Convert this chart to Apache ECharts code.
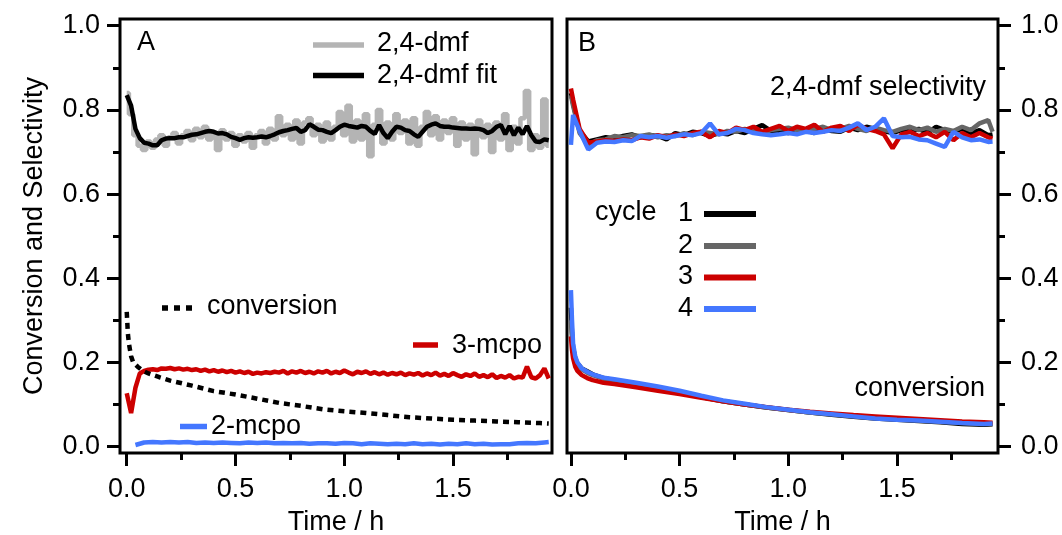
<!DOCTYPE html>
<html>
<head>
<meta charset="utf-8">
<script src="https://cdn.jsdelivr.net/npm/echarts@6/dist/echarts.min.js"></script>
<style>html,body{margin:0;padding:0;background:#fff;}#chart{width:1062px;height:535px;}</style>
</head>
<body>
<div id="chart"></div>
<script>
// ---------- DATA ----------
const timeFine = [
  0,0.02,0.04,0.06,0.08,0.1,0.12,0.14,0.16,0.18,
  0.2,0.22,0.24,0.26,0.28,0.3,0.32,0.34,0.36,0.38,
  0.4,0.42,0.44,0.46,0.48,0.5,0.52,0.54,0.56,0.58,
  0.6,0.62,0.64,0.66,0.68,0.7,0.72,0.74,0.76,0.78,
  0.8,0.82,0.84,0.86,0.88,0.9,0.92,0.94,0.96,0.98,
  1,1.02,1.04,1.06,1.08,1.1,1.12,1.14,1.16,1.18,
  1.2,1.22,1.24,1.26,1.28,1.3,1.32,1.34,1.36,1.38,
  1.4,1.42,1.44,1.46,1.48,1.5,1.52,1.54,1.56,1.58,
  1.6,1.62,1.64,1.66,1.68,1.7,1.72,1.74,1.76,1.78,
  1.8,1.82,1.84,1.86,1.88,1.9,1.92,1.94
];
const timeCoarse = [
  0,0.01,0.04,0.08,0.12,0.16,0.2,0.24,0.28,0.32,
  0.36,0.4,0.44,0.48,0.52,0.56,0.6,0.64,0.68,0.72,
  0.76,0.8,0.84,0.88,0.92,0.96,1,1.04,1.08,1.12,
  1.16,1.2,1.24,1.28,1.32,1.36,1.4,1.44,1.48,1.52,
  1.56,1.6,1.64,1.68,1.72,1.76,1.8,1.84,1.88,1.92,
  1.94
];
const timeConv = [0,0.005,0.01,0.02,0.03,0.05,0.075,0.1,0.15,0.2,0.3,0.4,0.5,0.6,0.7,0.8,0.9,1,1.1,1.2,1.3,1.4,1.5,1.6,1.7,1.8,1.9,1.94];

// Panel A: 2,4-dmf selectivity (raw)
const dmfA = [
  0.84,0.79,0.74,0.715,0.705,0.725,0.71,0.73,0.74,0.715,
  0.735,0.745,0.72,0.74,0.75,0.728,0.755,0.735,0.76,0.73,
  0.745,0.705,0.752,0.73,0.745,0.715,0.74,0.725,0.745,0.71,
  0.74,0.75,0.72,0.755,0.73,0.785,0.74,0.765,0.73,0.775,
  0.72,0.77,0.78,0.74,0.765,0.725,0.77,0.73,0.76,0.795,
  0.74,0.81,0.725,0.775,0.73,0.79,0.69,0.765,0.8,0.72,
  0.77,0.73,0.79,0.745,0.775,0.72,0.78,0.715,0.76,0.795,
  0.74,0.785,0.73,0.775,0.745,0.78,0.715,0.77,0.73,0.765,
  0.695,0.775,0.735,0.765,0.7,0.77,0.73,0.79,0.705,0.76,
  0.72,0.78,0.845,0.705,0.74,0.71,0.825,0.715
];
// Panel A: 2,4-dmf fit
const dmfFitA = [
  0.835,0.81,0.755,0.733,0.722,0.72,0.716,0.716,0.728,0.732,
  0.733,0.733,0.735,0.735,0.738,0.741,0.742,0.745,0.748,0.75,
  0.748,0.744,0.745,0.742,0.736,0.733,0.729,0.733,0.735,0.734,
  0.735,0.737,0.735,0.738,0.742,0.747,0.75,0.752,0.755,0.757,
  0.748,0.752,0.766,0.76,0.753,0.752,0.748,0.745,0.752,0.76,
  0.765,0.762,0.76,0.758,0.762,0.76,0.75,0.743,0.764,0.745,
  0.733,0.748,0.76,0.758,0.752,0.75,0.742,0.736,0.748,0.76,
  0.765,0.768,0.762,0.76,0.76,0.758,0.757,0.756,0.756,0.755,
  0.756,0.755,0.752,0.745,0.75,0.76,0.764,0.742,0.762,0.74,
  0.758,0.742,0.762,0.74,0.725,0.724,0.73,0.728
];
// Panel A: 3-mcpo selectivity
const mcpo3A = [
  0.127,0.08,0.14,0.174,0.18,0.183,0.184,0.182,0.186,0.185,
  0.187,0.184,0.186,0.183,0.185,0.182,0.184,0.18,0.183,0.179,
  0.182,0.178,0.181,0.177,0.18,0.176,0.179,0.175,0.178,0.173,
  0.176,0.174,0.177,0.175,0.178,0.176,0.18,0.174,0.179,0.176,
  0.18,0.175,0.178,0.174,0.179,0.176,0.18,0.174,0.178,0.175,
  0.181,0.176,0.172,0.178,0.175,0.179,0.173,0.177,0.172,0.176,
  0.171,0.175,0.172,0.176,0.17,0.174,0.171,0.175,0.169,0.174,
  0.17,0.176,0.169,0.173,0.168,0.175,0.17,0.166,0.172,0.168,
  0.174,0.166,0.17,0.165,0.172,0.163,0.168,0.164,0.17,0.162,
  0.166,0.164,0.19,0.165,0.162,0.17,0.186,0.162
];
// Panel A: 2-mcpo selectivity
const mcpo2A = [
  null,null,0.004,0.01,0.011,0.01,0.011,0.01,0.011,0.009,
  0.01,0.009,0.01,0.009,0.008,0.01,0.009,0.01,0.008,0.009,
  0.008,0.009,0.007,0.008,0.008,0.007,0.009,0.008,0.006,0.008,
  0.007,0.006,0.007,0.006,0.008,0.006,0.007,0.005,0.007,0.006,
  0.008,0.006,0.007,0.005,0.006,0.006,0.008,0.009,0.008,0.01,
  0.011
];
// Panel A: conversion
const convA = [0.32,0.27,0.245,0.215,0.2,0.19,0.18,0.174,0.165,0.157,0.145,0.132,0.124,0.114,0.104,0.097,0.089,0.084,0.08,0.075,0.07,0.067,0.064,0.062,0.06,0.058,0.056,0.055];

// Panel B: 2,4-dmf selectivity, cycles 1-4 (on timeCoarse)
const selB1 = [
  0.84,0.815,0.75,0.725,0.73,0.735,0.732,0.738,0.742,0.735,
  0.74,0.738,0.73,0.745,0.74,0.748,0.745,0.738,0.745,0.742,
  0.75,0.745,0.755,0.764,0.75,0.748,0.745,0.75,0.752,0.745,
  0.755,0.75,0.748,0.758,0.752,0.76,0.755,0.75,0.745,0.752,
  0.748,0.755,0.745,0.76,0.752,0.748,0.755,0.745,0.752,0.74,
  0.742
];
const selB2 = [
  0.835,0.81,0.745,0.718,0.728,0.73,0.738,0.735,0.74,0.738,
  0.742,0.735,0.74,0.738,0.745,0.74,0.748,0.745,0.742,0.75,
  0.748,0.755,0.75,0.745,0.752,0.755,0.758,0.752,0.748,0.755,
  0.76,0.752,0.755,0.762,0.755,0.75,0.758,0.752,0.748,0.755,
  0.76,0.752,0.758,0.748,0.755,0.75,0.76,0.752,0.768,0.776,
  0.748
];
const selB3 = [
  0.851,0.825,0.755,0.722,0.725,0.728,0.726,0.73,0.728,0.735,
  0.732,0.74,0.735,0.742,0.738,0.745,0.748,0.735,0.75,0.745,
  0.758,0.752,0.76,0.748,0.755,0.762,0.75,0.76,0.755,0.765,
  0.748,0.758,0.762,0.75,0.765,0.755,0.75,0.742,0.709,0.742,
  0.748,0.738,0.745,0.735,0.748,0.728,0.745,0.735,0.745,0.735,
  0.732
];
const selB4 = [
  0.717,0.788,0.75,0.706,0.722,0.725,0.724,0.728,0.726,0.738,
  0.735,0.738,0.734,0.738,0.742,0.74,0.745,0.768,0.742,0.745,
  0.755,0.752,0.745,0.742,0.74,0.742,0.745,0.742,0.748,0.745,
  0.748,0.752,0.75,0.758,0.768,0.752,0.76,0.78,0.738,0.735,
  0.736,0.73,0.728,0.72,0.712,0.748,0.735,0.728,0.73,0.724,
  0.725
];
// Panel B: conversion, cycles 1-4 (on timeConv)
const convB1 = [0.33,0.27,0.235,0.21,0.198,0.186,0.179,0.172,0.163,0.158,0.15,0.14,0.13,0.118,0.108,0.1,0.093,0.087,0.081,0.076,0.071,0.067,0.064,0.061,0.058,0.054,0.052,0.053];
const convB2 = [0.3,0.26,0.23,0.205,0.195,0.184,0.176,0.17,0.162,0.157,0.149,0.139,0.129,0.118,0.108,0.1,0.093,0.087,0.081,0.077,0.072,0.068,0.065,0.062,0.059,0.056,0.054,0.055];
const convB3 = [0.262,0.23,0.21,0.19,0.18,0.17,0.163,0.158,0.152,0.149,0.141,0.133,0.125,0.116,0.108,0.1,0.094,0.088,0.083,0.079,0.075,0.072,0.069,0.066,0.063,0.06,0.058,0.057];
const convB4 = [0.372,0.3,0.245,0.214,0.2,0.186,0.178,0.172,0.164,0.16,0.152,0.143,0.133,0.121,0.11,0.102,0.094,0.088,0.082,0.077,0.072,0.067,0.064,0.062,0.059,0.056,0.054,0.055];

// Ticks
const xMajorTicks = [0, 0.5, 1.0, 1.5];
const xMinorTicks = [0.25, 0.75, 1.25, 1.75];
const yMajorTicks = [0, 0.2, 0.4, 0.6, 0.8, 1.0];
const yMinorTicks = [0.1, 0.3, 0.5, 0.7, 0.9];
const cycleNames = ['1', '2', '3', '4'];

// ---------- STYLE ----------
const FONT = "'Liberation Sans', Arial, Helvetica, sans-serif";
const FS = 27;
const TXT = { fontFamily: FONT, fontSize: FS, color: '#000' };
const RED = '#cc0000', BLUE = '#4477ff', LGRAY = '#b4b4b4', DGRAY = '#666666', BLACK = '#000000';
const LW = 4.5;
const cycleColors = [BLACK, DGRAY, RED, BLUE];
const X_RANGE_A = [-0.031, 1.955], X_RANGE_B = [-0.018, 1.965], Y_RANGE = [-0.015, 1.016];

const pairs = (t, v) => t.map((x, i) => [x, v[i]]);
const tickStyle = { color: '#000', width: 3 };
const noLine = { show: false, onZero: false };

function xAxisMajor(gi, r) {
  return { gridIndex: gi, type: 'value', position: 'bottom', min: r[0], max: r[1],
    axisLine: noLine, splitLine: { show: false },
    axisTick: { show: true, inside: false, customValues: xMajorTicks, length: 13, lineStyle: tickStyle },
    axisLabel: { show: true, customValues: xMajorTicks, formatter: v => v.toFixed(1), margin: 23, ...TXT },
    name: 'Time / h', nameLocation: 'middle', nameGap: 56, nameTextStyle: { ...TXT } };
}
function xAxisMinor(gi, r) {
  return { gridIndex: gi, type: 'value', position: 'bottom', min: r[0], max: r[1],
    axisLine: noLine, splitLine: { show: false },
    axisTick: { show: true, inside: false, customValues: xMinorTicks, length: 7, lineStyle: tickStyle },
    axisLabel: { show: false } };
}
function yAxisMajor(gi, pos, margin, withName) {
  const a = { gridIndex: gi, type: 'value', position: pos, min: Y_RANGE[0], max: Y_RANGE[1],
    axisLine: noLine, splitLine: { show: false },
    axisTick: { show: true, inside: false, customValues: yMajorTicks, length: 13, lineStyle: tickStyle },
    axisLabel: { show: true, customValues: yMajorTicks, formatter: v => v.toFixed(1), margin, ...TXT } };
  if (withName) Object.assign(a, { name: 'Conversion and Selectivity', nameLocation: 'middle', nameRotate: 90, nameGap: 72, nameTextStyle: { ...TXT } });
  return a;
}
function yAxisMinor(gi, pos) {
  return { gridIndex: gi, type: 'value', position: pos, min: Y_RANGE[0], max: Y_RANGE[1],
    axisLine: noLine, splitLine: { show: false },
    axisTick: { show: true, inside: false, customValues: yMinorTicks, length: 7, lineStyle: tickStyle },
    axisLabel: { show: false } };
}

function line(name, xi, yi, data, color, extra) {
  return Object.assign({
    name, type: 'line', xAxisIndex: xi, yAxisIndex: yi, data,
    symbol: 'none', showSymbol: false, clip: true, connectNulls: false,
    lineStyle: { color, width: LW }, itemStyle: { color }, emphasis: { disabled: true }
  }, extra || {});
}

const series = [
  line('2,4-dmf', 0, 0, pairs(timeFine, dmfA), LGRAY, { step: 'middle' }),
  line('2,4-dmf fit', 0, 0, pairs(timeFine, dmfFitA), BLACK),
  line('3-mcpo', 0, 0, pairs(timeFine, mcpo3A), RED),
  line('2-mcpo', 0, 0, pairs(timeCoarse, mcpo2A), BLUE),
  line('conversion', 0, 0, pairs(timeConv, convA), BLACK, { lineStyle: { color: BLACK, width: LW, type: [6, 5] } })
];
const selB = [selB1, selB2, selB3, selB4];
const convB = [convB1, convB2, convB3, convB4];
cycleNames.forEach((n, i) => {
  series.push(line(n, 1, 1, pairs(timeCoarse, selB[i]), cycleColors[i]));
  series.push(line(n, 1, 1, pairs(timeConv, convB[i]), cycleColors[i]));
});

// ---------- annotations / legends ----------
function gText(text, x, y, align) {
  return { type: 'text', x, y, silent: true,
    style: { text, fill: '#000', font: FS + 'px ' + FONT, textAlign: align || 'left', textVerticalAlign: 'middle' } };
}
function gLine(x1, x2, y, color, width, dash) {
  return { type: 'line', silent: true, shape: { x1, y1: y, x2, y2: y },
    style: { stroke: color, lineWidth: width, lineDash: dash || null } };
}
const graphics = [
  gText('A', 137, 42.5),
  gText('B', 578, 43.5),
  gLine(313, 364, 45, LGRAY, 5.5), gText('2,4-dmf', 377, 44),
  gLine(313, 364, 75.5, BLACK, 5.5), gText('2,4-dmf fit', 377, 75.5),
  gLine(162, 192, 308, BLACK, 5.5, [6, 6]), gText('conversion', 207, 307),
  gLine(413, 438, 345, RED, 5.5), gText('3-mcpo', 452, 345.5),
  gLine(180, 207, 426.5, BLUE, 5.5), gText('2-mcpo', 211, 426.5),
  gText('2,4-dmf selectivity', 986, 87.5, 'right'),
  gText('conversion', 985, 389, 'right'),
  gText('cycle', 595, 213)
];
const rowY = [213.5, 245.5, 277, 308.5];
cycleNames.forEach((n, i) => {
  graphics.push(gText(n, 678, rowY[i]));
  graphics.push(gLine(704, 756, rowY[i] + 0.5, cycleColors[i], 6));
});

const GA = { left: 120, top: 19, width: 432, height: 434, containLabel: false, outerBoundsMode: 'none' };
const GB = { left: 567, top: 19, width: 431, height: 434, containLabel: false, outerBoundsMode: 'none' };
const chart = echarts.init(document.getElementById('chart'), null, { renderer: 'canvas' });
chart.setOption({
  animation: false,
  backgroundColor: '#fff',
  textStyle: { fontFamily: FONT },
  grid: [
    { ...GA, show: true, borderColor: '#000', borderWidth: 3, backgroundColor: 'transparent' },
    { ...GB, show: true, borderColor: '#000', borderWidth: 3, backgroundColor: 'transparent' },
    { ...GA, show: false },
    { ...GB, show: false }
  ],
  xAxis: [xAxisMajor(0, X_RANGE_A), xAxisMajor(1, X_RANGE_B), xAxisMinor(2, X_RANGE_A), xAxisMinor(3, X_RANGE_B)],
  yAxis: [yAxisMajor(0, 'left', 20, true), yAxisMajor(1, 'right', 23, false), yAxisMinor(2, 'left'), yAxisMinor(3, 'right')],
  series,
  graphic: graphics
});
</script>
</body>
</html>
